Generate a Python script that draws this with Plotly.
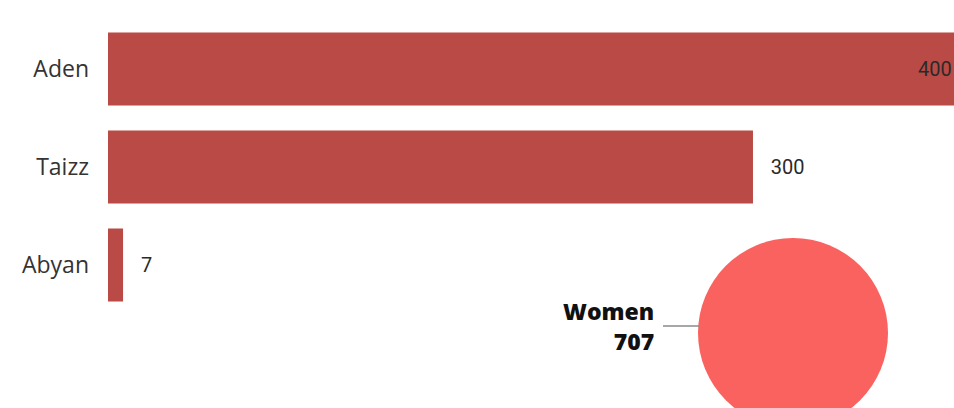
import plotly.graph_objects as go

# ---- data ----
regions = ["Aden", "Taizz", "Abyan"]
region_values = [400, 300, 7]
pie_labels = ["Women"]
pie_values = [707]

BAR_COLOR = "#B94A45"
PIE_COLOR = "#F9625E"

W, H = 954, 440
ML, MR, MT, MB = 108, 0, 20, 0
plot_h = H - MT - MB
plot_w = W - ML - MR
XMAX = 393.5

fig = go.Figure()

# value labels: outside for the bars that fit, the clipped one gets an edge label
fits = [v <= XMAX * 0.9 for v in region_values]
fig.add_trace(go.Bar(
    y=regions,
    x=region_values,
    orientation="h",
    marker=dict(color=BAR_COLOR, line=dict(width=0)),
    texttemplate=["&nbsp;&nbsp;&nbsp;%{x}" if f else "" for f in fits],
    textposition="outside",
    constraintext="none",
    textfont=dict(family="Roboto", size=20, color="#2a2a2a"),
    cliponaxis=True,
    showlegend=False,
    hoverinfo="skip",
))
for r, v, f in zip(regions, region_values, fits):
    if not f:
        fig.add_annotation(
            x=1, xref="paper", y=r, yref="y",
            text=str(v), showarrow=False, xanchor="right", xshift=0,
            font=dict(family="Roboto", size=20, color="#2a2a2a"),
        )

# pie geometry (pixels)
pie_cx, pie_cy, pie_r = 793, 333, 95
dx0 = (pie_cx - pie_r - ML) / plot_w
dx1 = (pie_cx + pie_r - ML) / plot_w
dy0 = (H - MB - (pie_cy + pie_r)) / plot_h
dy1 = (H - MB - (pie_cy - pie_r)) / plot_h

fig.add_trace(go.Pie(
    labels=pie_labels,
    values=pie_values,
    marker=dict(colors=[PIE_COLOR], line=dict(width=0)),
    textinfo="none",
    sort=False,
    rotation=90,
    domain=dict(x=[dx0, dx1], y=[dy0, dy1]),
    showlegend=False,
    hoverinfo="skip",
))

# label for pie with leader line
tip_x = (pie_cx - pie_r + 1 - ML) / plot_w
tip_y = (H - MB - 326) / plot_h
fig.add_annotation(
    x=tip_x, y=tip_y, xref="paper", yref="paper",
    text=f"{pie_labels[0]}<br>{pie_values[0]}",
    align="right",
    showarrow=True, arrowhead=0, arrowwidth=1.5, arrowcolor="#8a8a8a",
    ax=-91, ay=0, standoff=0, borderpad=9,
    font=dict(family="Open Sans", size=23, color="#111111", weight=800),
)

bar_bottom = 314
ydom0 = (H - MB - bar_bottom) / plot_h

fig.update_layout(
    width=W, height=H,
    margin=dict(l=ML, r=MR, t=MT, b=MB, pad=0),
    paper_bgcolor="white",
    plot_bgcolor="white",
    bargap=0.255,
    xaxis=dict(range=[0, XMAX], visible=False, fixedrange=True),
    yaxis=dict(
        domain=[ydom0, 1],
        autorange="reversed",
        showgrid=False, zeroline=False, showline=False,
        ticks="", ticklabelstandoff=18,
        tickfont=dict(family="Open Sans", size=23, color="#333333"),
    ),
)

fig.write_html(
    "out.html",
    config={"displayModeBar": False},
    post_script="document.body.style.margin='0';document.body.style.overflow='hidden';document.documentElement.style.overflow='hidden';",
)
